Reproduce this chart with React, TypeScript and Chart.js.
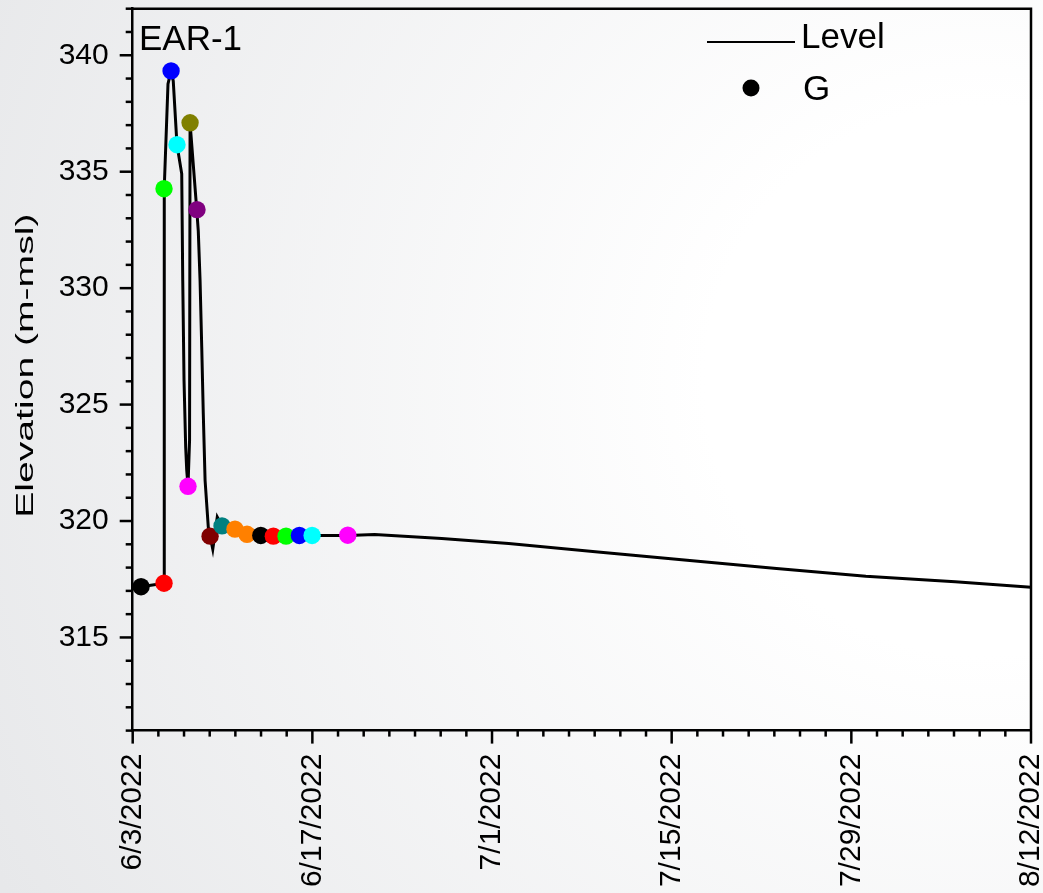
import React, { useEffect, useRef } from 'react';
import { Chart, registerables } from 'chart.js';
Chart.register(...registerables);

// x values are days since 6/3/2022
const tickDays = [0, 14, 28, 42, 56, 70];
const tickLabels = ['6/3/2022', '6/17/2022', '7/1/2022', '7/15/2022', '7/29/2022', '8/12/2022'];
const yTicks = [315, 320, 325, 330, 335, 340];
const yMin = 311;
const yMax = 342;

const levelDays = [0.65, 2.44, 2.46, 2.75, 2.99, 3.16, 3.45, 3.82, 3.9, 4.0, 4.13, 4.21, 4.31, 4.43, 4.47, 4.99, 5.11, 5.25, 5.38, 5.5, 5.64, 5.89, 6.03, 6.24, 6.59, 6.96, 7.97, 8.91, 9.98, 16.78, 18.85, 24.08, 29.3, 36.26, 43.2, 50.17, 57.13, 64.09, 70];
const levelValues = [317.18, 317.33, 334.32, 338.77, 339.33, 338.9, 336.16, 334.91, 330.32, 326.03, 323.16, 322.18, 321.49, 323.46, 337.1, 333.37, 332.46, 330.32, 327.46, 324.62, 321.75, 319.74, 319.35, 318.79, 320.17, 319.79, 319.65, 319.43, 319.38, 319.38, 319.42, 319.25, 319.03, 318.67, 318.32, 317.96, 317.63, 317.39, 317.16];

const gDays = [0.65, 2.44, 2.44, 2.99, 3.45, 4.31, 4.47, 5.01, 6.03, 6.96, 7.97, 8.91, 9.98, 10.96, 11.95, 12.99, 13.98, 16.76];
const gValues = [317.18, 317.33, 334.27, 339.33, 336.16, 321.49, 337.1, 333.37, 319.35, 319.79, 319.65, 319.43, 319.38, 319.35, 319.35, 319.38, 319.38, 319.39];
const gColors = ['#000000', '#ff0000', '#00ff00', '#0000ff', '#00ffff', '#ff00ff', '#808000', '#800080', '#800000', '#008080', '#ff8000', '#ff8000', '#000000', '#ff0000', '#00ff00', '#0000ff', '#00ffff', '#ff00ff'];

const FONT = '"Liberation Sans", Arial, Helvetica, sans-serif';

const zeroPad = (s: any) => {
  s.paddingLeft = 0;
  s.paddingRight = 0;
  s.paddingTop = 0;
  s.paddingBottom = 0;
};

const decorPlugin = {
  id: 'decor',
  beforeDraw(chart: any) {
    const { ctx, width, height } = chart;
    ctx.save();
    const g = ctx.createRadialGradient(980, 380, 0, 980, 380, 1100);
    g.addColorStop(0, '#ffffff');
    g.addColorStop(0.25, '#ffffff');
    g.addColorStop(1, '#e7e8ea');
    ctx.fillStyle = g;
    ctx.fillRect(0, 0, width, height);
    ctx.restore();
  },
  afterDraw(chart: any) {
    const { ctx, chartArea } = chart;
    const { left, right, top, bottom } = chartArea;
    const xs = chart.scales.x;
    const ys = chart.scales.y;
    ctx.save();
    ctx.strokeStyle = '#000';
    ctx.lineWidth = 2.5;
    // frame top and right
    ctx.beginPath();
    ctx.moveTo(left, top);
    ctx.lineTo(right, top);
    ctx.lineTo(right, bottom);
    ctx.stroke();
    // y ticks
    for (let v = yMin; v <= yMax; v++) {
      const py = ys.getPixelForValue(v);
      const len = v % 5 === 0 ? 13 : 7;
      ctx.beginPath();
      ctx.moveTo(left - len, py);
      ctx.lineTo(left, py);
      ctx.stroke();
    }
    // x ticks
    for (let d = 0; d <= 70; d += 2) {
      const px = xs.getPixelForValue(d);
      const len = d % 14 === 0 ? 13 : 6;
      ctx.beginPath();
      ctx.moveTo(px, bottom);
      ctx.lineTo(px, bottom + len);
      ctx.stroke();
    }
    // panel label
    ctx.fillStyle = '#000';
    ctx.font = `35px ${FONT}`;
    ctx.textAlign = 'left';
    ctx.textBaseline = 'alphabetic';
    ctx.fillText('EAR-1', 139, 50);
    // legend
    ctx.lineWidth = 2;
    ctx.beginPath();
    ctx.moveTo(707, 42);
    ctx.lineTo(795, 42);
    ctx.stroke();
    ctx.font = `35px ${FONT}`;
    ctx.fillText('Level', 801, 48);
    ctx.beginPath();
    ctx.arc(751, 88, 8.5, 0, Math.PI * 2);
    ctx.fill();
    ctx.fillText('G', 803, 100);
    // y title (stretched along text direction)
    ctx.save();
    ctx.translate(33, (top + bottom) / 2 - 4);
    ctx.rotate(-Math.PI / 2);
    ctx.scale(1.7, 1);
    ctx.font = `23px ${FONT}`;
    ctx.textAlign = 'center';
    ctx.fillText('Elevation (m-msl)', 0, 0);
    ctx.restore();
    ctx.restore();
  },
};

export default function App() {
  const ref = useRef<HTMLCanvasElement>(null);
  useEffect(() => {
    if (!ref.current) return;
    const chart = new Chart(ref.current, {
      type: 'scatter',
      data: {
        datasets: [
          {
            label: 'G',
            data: gDays.map((d, i) => ({ x: d, y: gValues[i] })),
            backgroundColor: gColors,
            borderColor: gColors,
            pointRadius: 8.7,
            pointBorderWidth: 0,
            showLine: false,
            order: 1,
          },
          {
            label: 'Level',
            data: levelDays.map((d, i) => ({ x: d, y: levelValues[i] })),
            borderColor: '#000',
            borderWidth: 3,
            pointRadius: 0,
            showLine: true,
            tension: 0,
            order: 2,
          },
        ],
      },
      options: {
        responsive: false,
        animation: false,
        layout: { padding: { top: 7.7, right: 12, left: 0, bottom: 0 } },
        plugins: { legend: { display: false }, tooltip: { enabled: false } },
        scales: {
          x: {
            type: 'linear',
            min: 0,
            max: 70,
            afterBuildTicks: (s: any) => {
              s.ticks = tickDays.map((v) => ({ value: v }));
            },
            afterFit: (s: any) => {
              s.height = 162.4;
              zeroPad(s);
            },
            grid: { display: false, drawTicks: true, tickLength: 13 },
            border: { display: true, color: '#000', width: 2.5 },
            ticks: {
              autoSkip: false,
              minRotation: 90,
              maxRotation: 90,
              padding: 10,
              color: '#000',
              font: { family: FONT, size: 30 },
              callback: (v: any) => tickLabels[tickDays.indexOf(Number(v))] ?? '',
            },
          },
          y: {
            type: 'linear',
            min: yMin,
            max: yMax,
            afterBuildTicks: (s: any) => {
              s.ticks = yTicks.map((v) => ({ value: v }));
            },
            afterFit: (s: any) => {
              s.width = 132.7;
              zeroPad(s);
            },
            grid: { display: false, drawTicks: true, tickLength: 13 },
            border: { display: true, color: '#000', width: 2.5 },
            ticks: {
              padding: 11,
              color: '#000',
              font: { family: FONT, size: 30 },
              callback: (v: any) => String(v),
            },
          },
        },
      },
      plugins: [decorPlugin],
    });
    return () => chart.destroy();
  }, []);
  return (
    <div style={{ position: 'fixed', left: 0, top: 0, width: 1043, height: 893 }}>
      <canvas ref={ref} width={1043} height={893} style={{ display: 'block' }} />
    </div>
  );
}
